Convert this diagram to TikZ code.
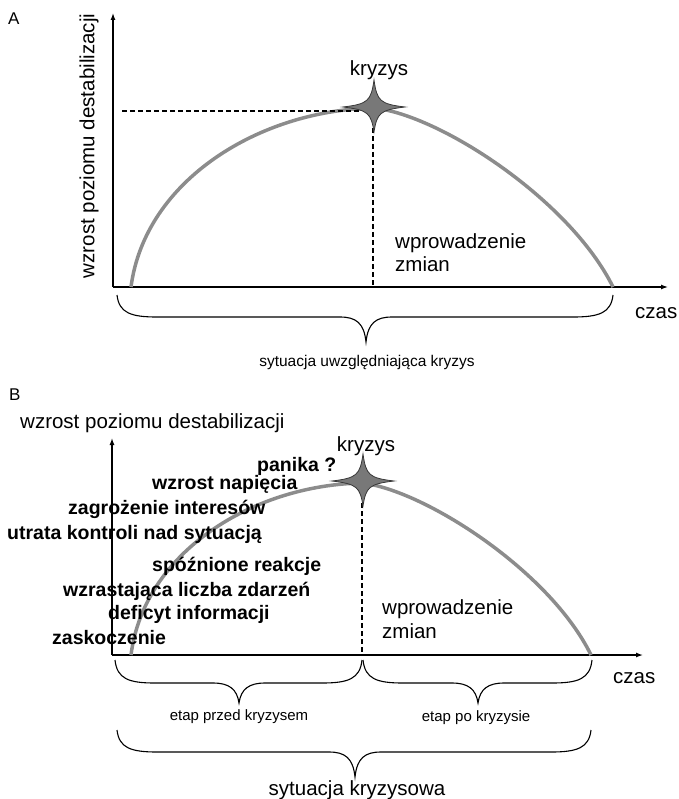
\documentclass[tikz,border=0pt]{standalone}
\usepackage{fontspec}
\setmainfont{Liberation Sans}
\usetikzlibrary{arrows.meta}

\definecolor{curvegray}{gray}{0.55}
\definecolor{stargray}{gray}{0.47}
\definecolor{stardark}{gray}{0.22}

\tikzset{
  axis/.style={line width=1.3pt, -{Latex[length=7pt,width=5pt]}},
  guide/.style={line width=1.1pt, dash pattern=on 5pt off 3pt},
  curveline/.style={line width=3.5pt, draw=curvegray},
  bracestyle/.style={line width=1.1pt},
  lbl/.style={font=\fontsize{20.5}{23}\selectfont, inner sep=0pt, anchor=base west},
  factor/.style={font=\bfseries\fontsize{19.5}{23}\selectfont, inner sep=0pt, anchor=base west},
  small/.style={font=\fontsize{15}{18}\selectfont, inner sep=0pt, anchor=base},
  panel/.style={font=\fontsize{17}{19}\selectfont, inner sep=0pt, anchor=base west},
  starfill/.style={fill=stargray, draw=stardark, line width=0.8pt},
}

% four-pointed star marking the crisis peak
\newcommand{\crisisstar}[1]{%
  \filldraw[starfill, shift={#1}]
    (0,-27) .. controls (3,-6) and (6,-3) .. (31,0)
    .. controls (6,3) and (3,6) .. (0,25)
    .. controls (-3,6) and (-6,3) .. (-31,0)
    .. controls (-6,-3) and (-3,-6) .. cycle;}

% horizontal curly brace: left x, right x, tip x, top y, middle y, tip y
\newcommand{\curlybrace}[6]{%
  \draw[bracestyle] (#1,#4) .. controls (#1+2,#5-4) and (#1+14,#5) .. (#1+40,#5)
    -- (#3-26,#5) .. controls (#3-10,#5) and (#3-2,#5+6) .. (#3,#6)
    .. controls (#3+2,#5+6) and (#3+10,#5) .. (#3+26,#5)
    -- (#2-40,#5) .. controls (#2-14,#5) and (#2-2,#5-4) .. (#2,#4);}

\begin{document}
\begin{tikzpicture}[x=1pt,y=-1pt]
\useasboundingbox (0,0) rectangle (678,799);

% ---------------- panel A ----------------
\node[panel] (tagA) at (8,25) {A};

\coordinate (oA) at (113,287);
\coordinate (yA) at (113,13);
\coordinate (xA) at (668,287);
\draw[axis] (oA) -- (yA);
\draw[axis] (oA) -- (xA);

\coordinate (startA) at (131,287);
\coordinate (peakA) at (374,108);
\coordinate (endA) at (613,287);
\draw[curveline] (startA) .. controls (145,180) and (260,110) .. (peakA)
  .. controls (440,115) and (570,200) .. (endA);

\coordinate (levelA) at (122,111);
\coordinate (levelAend) at (360,111);
\coordinate (footA) at (373,287);
\coordinate (dropA) at (373,128);
\draw[guide] (levelA) -- (levelAend);
\draw[guide] (dropA) -- (footA);

\crisisstar{(374,107)}

\node[lbl, anchor=base] (kryzysA) at (379,76) {kryzys};
\node[lbl] (zmianyA1) at (395,248) {wprowadzenie};
\node[lbl] (zmianyA2) at (395,271) {zmian};
\node[lbl] (czasA) at (635,318) {czas};
\node[lbl, anchor=center, rotate=90] (osA) at (89,146) {wzrost poziomu destabilizacji};

\curlybrace{117}{613}{366}{295}{317}{342}
\node[small, font=\fontsize{15.5}{18}\selectfont] (sytA) at (367,366) {sytuacja uwzględniająca kryzys};

% ---------------- panel B ----------------
\node[panel] (tagB) at (9,400) {B};
\node[lbl] (osB) at (20,428) {wzrost poziomu destabilizacji};

\coordinate (oB) at (112,655);
\coordinate (yB) at (112,438);
\coordinate (xB) at (643,655);
\draw[axis] (oB) -- (yB);
\draw[axis] (oB) -- (xB);

\coordinate (startB) at (131,655);
\coordinate (peakB) at (362,483);
\coordinate (endB) at (591,655);
\draw[curveline] (startB) .. controls (144,552) and (253,485) .. (peakB)
  .. controls (424,490) and (550,571) .. (endB);

\coordinate (dropB) at (362,503);
\coordinate (footB) at (362,655);
\draw[guide] (dropB) -- (footB);

\crisisstar{(363,481)}

\node[lbl, anchor=base] (kryzysB) at (366,451) {kryzys};

\node[factor] (f1) at (257,471) {panika ?};
\node[factor] (f2) at (152,489) {wzrost napięcia};
\node[factor] (f3) at (68,514) {zagrożenie interesów};
\node[factor] (f4) at (7,539) {utrata kontroli nad sytuacją};
\node[factor] (f5) at (152,571) {spóźnione reakcje};
\node[factor] (f6) at (63,596) {wzrastająca liczba zdarzeń};
\node[factor] (f7) at (108,619) {deficyt informacji};
\node[factor] (f8) at (52,644) {zaskoczenie};

\node[lbl] (zmianyB1) at (382,614) {wprowadzenie};
\node[lbl] (zmianyB2) at (382,638) {zmian};
\node[lbl] (czasB) at (613,683) {czas};

\curlybrace{115}{362}{239}{660}{683}{703}
\curlybrace{363}{592}{478}{660}{683}{703}
\node[small] (przed) at (239,720) {etap przed kryzysem};
\node[small] (po) at (476,721) {etap po kryzysie};

\curlybrace{117}{591}{355}{730}{752}{777}
\node[lbl, anchor=base] (sytB) at (357,795) {sytuacja kryzysowa};
\end{tikzpicture}
\end{document}
